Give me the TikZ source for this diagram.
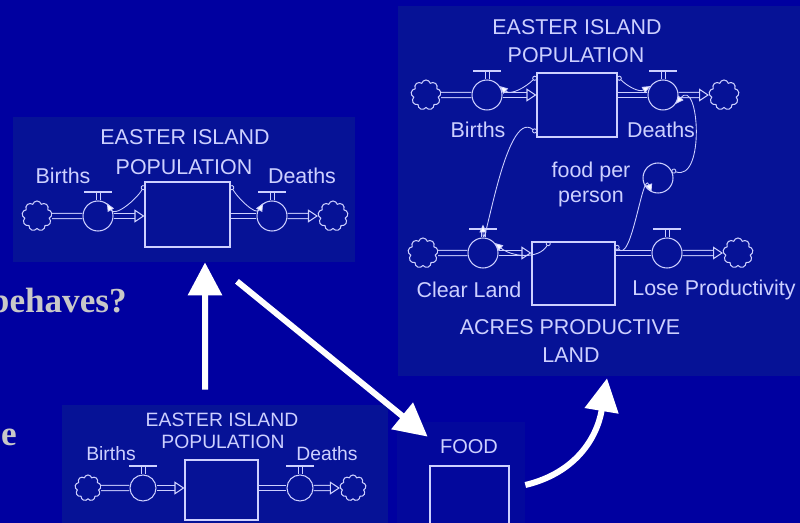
\documentclass[tikz,border=0pt]{standalone}
\usepackage{fontspec}
\setmainfont{Liberation Sans}
\newfontfamily\slideserif{Liberation Serif}
\usetikzlibrary{arrows.meta,shapes.symbols}

\definecolor{slidebg}{RGB}{0,0,160}
\definecolor{panelbg}{RGB}{6,18,150}
\definecolor{foodbg}{RGB}{3,8,156}
\definecolor{sdline}{RGB}{205,208,255}
\definecolor{slidegray}{RGB}{200,200,200}

\tikzset{
  panel/.style={fill=panelbg, inner sep=0pt},
  sdtext/.style={text=sdline, font=\fontsize{12.2}{13}\selectfont, inner sep=0pt},
  smalltext/.style={text=sdline, font=\fontsize{11}{12}\selectfont, inner sep=0pt},
  slidetext/.style={text=slidegray, font=\slideserif\bfseries\fontsize{20}{22}\selectfont, inner sep=0pt, anchor=base east},
  stock/.style={draw=sdline, line width=0.6pt, inner sep=0pt},
  valve/.style={circle, draw=sdline, line width=0.6pt, minimum size=0.6cm, inner sep=0pt},
  sink/.style={cloud, cloud puffs=9, aspect=1, draw=sdline, line width=0.6pt, minimum size=0.6cm, inner sep=0pt},
  pipe/.style={draw=sdline, line width=0.6pt, double=panelbg, double distance=2.3pt},
  inflow/.style={pipe, -{Triangle[length=0.2cm, width=0.26cm, line width=0.6pt, fill=panelbg]}},
  link/.style={draw=sdline, line width=0.5pt, {Circle[open, length=0.1cm]}-{Triangle[length=0.16cm, width=0.14cm, fill=white]}},
  bigarrow/.style={white, line width=0.12cm, -{Triangle[length=0.66cm, width=0.66cm]}}
}

\begin{document}
\begin{tikzpicture}[x=0.02cm, y=-0.02cm]
  \useasboundingbox (0,0) rectangle (800,523);
  \fill[slidebg] (0,0) rectangle (800,523);

  % panels
  \node[panel, minimum width=6.84cm, minimum height=2.9cm] (ptl) at (184,189.5) {};
  \node[panel, minimum width=8.14cm, minimum height=7.4cm] (pright) at (601.5,191) {};
  \node[panel, minimum width=6.52cm, minimum height=2.5cm] (pbot) at (225,467.5) {};
  \node[panel, fill=foodbg, minimum width=2.56cm, minimum height=2.16cm] (pfood) at (461,476) {};

  % slide text, cut at the left edge
  \node[slidetext] (ask) at (127,312) {behaves?};
  \node[slidetext] (tail) at (17,445) {e};

  % top left model
  \node[sdtext] (t1a) at (185,137) {EASTER ISLAND};
  \node[sdtext] (t1b) at (184,167) {POPULATION};
  \node[sdtext] (t1c) at (63,176) {Births};
  \node[sdtext] (t1d) at (302,176) {Deaths};
  \node[sink] (c1) at (37,216) {};
  \node[valve] (v1) at (98,216) {};
  \node[stock, minimum width=1.7cm, minimum height=1.3cm] (s1) at (187.5,214.5) {};
  \node[valve] (v2) at (272,216) {};
  \node[sink] (c2) at (333,216) {};

  % right model
  \node[sdtext] (t2a) at (577,27) {EASTER ISLAND};
  \node[sdtext] (t2b) at (576,55) {POPULATION};
  \node[sdtext] (t2c) at (478,130) {Births};
  \node[sdtext] (t2d) at (661,130) {Deaths};
  \node[sdtext] (t2e) at (591,172) {food per};
  \node[sdtext] (t2f) at (591,199) {person};
  \node[sink] (c3) at (426,95) {};
  \node[valve] (v3) at (487,95) {};
  \node[stock, minimum width=1.6cm, minimum height=1.28cm] (s2) at (577,105) {};
  \node[valve] (v4) at (663,95) {};
  \node[sink] (c4) at (724,95) {};
  \node[valve] (a1) at (658,178) {};
  \node[sink] (c5) at (423,253) {};
  \node[valve] (v5) at (483,253) {};
  \node[stock, minimum width=1.66cm, minimum height=1.26cm] (s3) at (573.5,273.5) {};
  \node[valve] (v6) at (667,253) {};
  \node[sink] (c6) at (738,253) {};
  \node[sdtext] (t2g) at (469,290) {Clear Land};
  \node[sdtext] (t2h) at (714,290) {Lose Productivity};
  \node[sdtext] (t2i) at (570,327) {ACRES PRODUCTIVE};
  \node[sdtext] (t2j) at (571,355) {LAND};

  % bottom model
  \node[smalltext] (t3a) at (222,420) {EASTER ISLAND};
  \node[smalltext] (t3b) at (223,442) {POPULATION};
  \node[smalltext] (t3c) at (111,454) {Births};
  \node[smalltext] (t3d) at (327,454) {Deaths};
  \node[sink, minimum size=0.52cm] (c7) at (88,488) {};
  \node[valve, minimum size=0.52cm] (v7) at (143,488) {};
  \node[stock, minimum width=1.46cm, minimum height=1.2cm] (s4) at (221.5,490) {};
  \node[valve, minimum size=0.52cm] (v8) at (300,488) {};
  \node[sink, minimum size=0.52cm] (c8) at (353,488) {};

  % food
  \node[smalltext, font=\fontsize{11.4}{12}\selectfont] (t4a) at (469,447) {FOOD};
  \node[stock, minimum width=1.58cm, minimum height=1.36cm] (s5) at (469.5,500) {};

  % valve handles
  \foreach \v in {v1,v2,v3,v4,v5,v6,v7,v8}{
    \draw[sdline, line width=0.6pt] ([xshift=-0.28cm, yshift=0.17cm]\v.north) -- ([xshift=0.28cm, yshift=0.17cm]\v.north);
    \draw[sdline, line width=0.5pt] ([xshift=-0.04cm, yshift=0.17cm]\v.north) -- ([xshift=-0.04cm]\v.north);
    \draw[sdline, line width=0.5pt] ([xshift=0.04cm, yshift=0.17cm]\v.north) -- ([xshift=0.04cm]\v.north);
  }

  % pipes
  \draw[pipe] (c1) -- (v1);
  \draw[inflow] (v1) -- (v1 -| s1.west);
  \draw[pipe] (s1.east |- v2) -- (v2);
  \draw[inflow] (v2) -- (c2);
  \draw[pipe] (c3) -- (v3);
  \draw[inflow] (v3) -- (v3 -| s2.west);
  \draw[pipe] (s2.east |- v4) -- (v4);
  \draw[inflow] (v4) -- (c4);
  \draw[pipe] (c5) -- (v5);
  \draw[inflow] (v5) -- (v5 -| s3.west);
  \draw[pipe] (s3.east |- v6) -- (v6);
  \draw[inflow] (v6) -- (c6);
  \draw[pipe] (c7) -- (v7);
  \draw[inflow] (v7) -- (v7 -| s4.west);
  \draw[pipe] (s4.east |- v8) -- (v8);
  \draw[inflow] (v8) -- (c8);

  % links
  \draw[link] ([yshift=-0.08cm]s1.north west) to[out=-120, in=-60] (v1.55);
  \draw[link] ([yshift=-0.08cm]s1.north east) to[out=-60, in=-120] (v2.125);
  \draw[link] ([yshift=-0.08cm]s2.north west) to[out=-135, in=-40] (v3.35);
  \draw[link] ([yshift=-0.08cm]s2.north east) to[out=-45, in=-150] (v4.145);
  \draw[link] ([yshift=0.1cm]s2.south west) to[out=140, in=-90] ([yshift=0.26cm]v5.north);
  \draw[link] (a1.30) to[out=-20, in=50, looseness=1.4] (v4.-35);
  \draw[link] ([yshift=-0.08cm]s3.north east) to[out=-50, in=110] (a1.-115);
  \draw[link] ([xshift=0.36cm]s3.north west) to[out=-120, in=-40] (v5.40);

  % big arrows
  \coordinate (foodout) at ([yshift=-0.18cm]pfood.east);
  \coordinate (landin) at ([xshift=0.11cm, yshift=-0.04cm]pright.south);
  \draw[bigarrow] ([xshift=-0.4cm, yshift=0.3cm]pbot.north) -- ([xshift=0.42cm]ptl.south);
  \draw[bigarrow] ([xshift=1.06cm, yshift=-0.38cm]ptl.south) -- ([xshift=0.62cm, yshift=-0.3cm]pfood.north west);
  \draw[bigarrow] (foodout) .. controls +(50,-12) and +(-10,60) .. (landin);
\end{tikzpicture}
\end{document}
